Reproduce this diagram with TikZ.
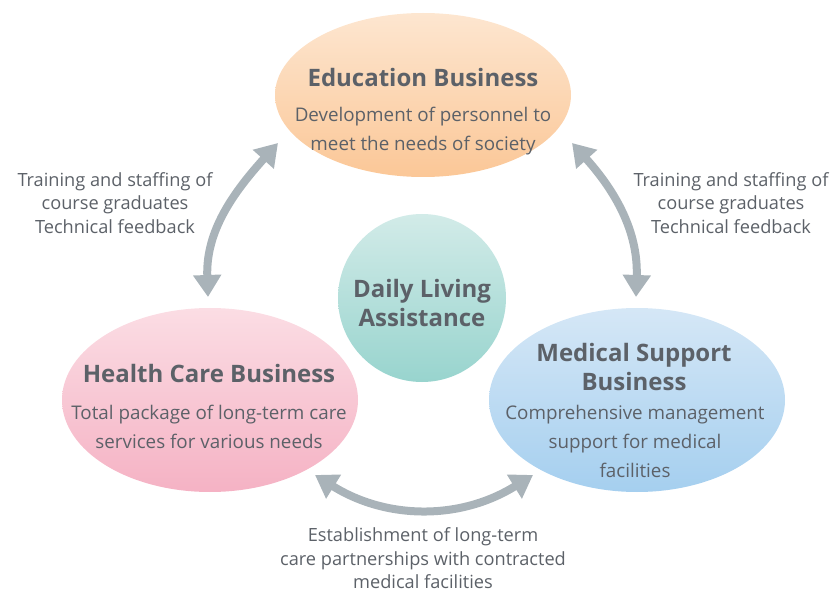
\documentclass[tikz,border=0pt]{standalone}
\usepackage{fontspec}
\setmainfont{Open Sans}
\usetikzlibrary{arrows.meta,shapes.geometric}
\definecolor{txt}{HTML}{5C6168}
\definecolor{arr}{HTML}{A9B3B9}
\definecolor{eduT}{HTML}{FDE6D0}
\definecolor{eduB}{HTML}{FBC797}
\definecolor{hcT}{HTML}{FBDDE4}
\definecolor{hcB}{HTML}{F5B2C4}
\definecolor{medT}{HTML}{D5E7F6}
\definecolor{medB}{HTML}{A5CFEF}
\definecolor{dlT}{HTML}{D2EBE8}
\definecolor{dlB}{HTML}{98D4CE}
\tikzset{
  blob/.style={ellipse, inner sep=0pt},
  ttl/.style={text=txt, font=\fontsize{24}{29}\selectfont\bfseries, align=center, inner sep=0pt},
  sub/.style={text=txt, font=\fontsize{18.8}{29}\selectfont, align=center, inner sep=0pt},
  lbl/.style={text=txt, font=\fontsize{18.2}{23.5}\selectfont, align=center, inner sep=0pt},
  conn/.style={draw=arr, line width=8pt, {Triangle[length=22pt,width=27pt]}-{Triangle[length=22pt,width=27pt]}}
}
\begin{document}
\begin{tikzpicture}[x=1pt,y=1pt]
\useasboundingbox (0,0) rectangle (833,590);
% blobs
\node[blob, minimum width=296pt, minimum height=164pt, top color=eduT, bottom color=eduB] (edu) at (423,495) {};
\node[blob, minimum width=296pt, minimum height=184pt, top color=hcT, bottom color=hcB] (hc) at (210,190) {};
\node[blob, minimum width=296pt, minimum height=184pt, top color=medT, bottom color=medB] (med) at (637,190) {};
\node[circle, inner sep=0pt, minimum size=168pt, top color=dlT, bottom color=dlB] (dl) at (422,292) {};
% texts
\node[ttl] (eduT) at (423,512) {Education Business};
\node[sub] (eduS) at (423,458.5) {Development of personnel to\\meet the needs of society};
\node[ttl] (hcT) at (209,217) {Health Care Business};
\node[sub] (hcS) at (209,163.5) {Total package of long-term care\\services for various needs};
\node[ttl] (medT) at (634,223.5) {Medical Support\\Business};
\node[sub] (medS) at (635,149) {Comprehensive management\\support for medical\\facilities};
\node[ttl] (dlT) at (422,286.5) {Daily Living\\Assistance};
\node[lbl] (lL) at (115,387) {Training and staffing of\\course graduates\\Technical feedback};
\node[lbl] (lR) at (731,387) {Training and staffing of\\course graduates\\Technical feedback};
\node[lbl] (lB) at (423,31.5) {Establishment of long-term\\care partnerships with contracted\\medical facilities};
% connector ends
\coordinate (hcA) at (208,293);
\coordinate (eduL) at (278,447);
\coordinate (eduR) at (572,447);
\coordinate (medA) at (636,293);
\coordinate (hcB) at (315,115);
\coordinate (medB) at (533,115);
\draw[conn] (hcA) to[out=92,in=228] (eduL);
\draw[conn] (eduR) to[out=-48,in=88] (medA);
\draw[conn] (hcB) to[out=-32,in=212] (medB);
\end{tikzpicture}
\end{document}
